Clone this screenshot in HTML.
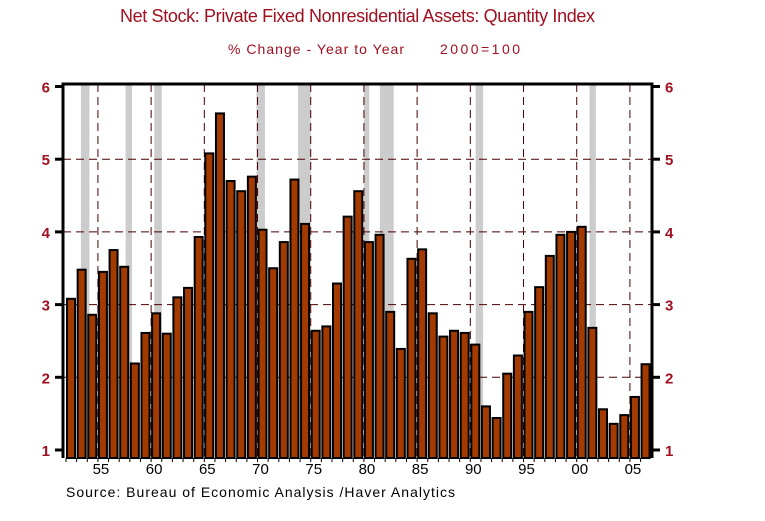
<!DOCTYPE html>
<html><head><meta charset="utf-8"><style>
body{margin:0;background:#fff;width:765px;height:516px;overflow:hidden;font-family:"Liberation Sans",Arial,sans-serif}
</style></head><body>
<svg id="chart" width="765" height="516" xmlns="http://www.w3.org/2000/svg">
<text x="120" y="22" textLength="475" font-size="18" fill="#a01020">Net Stock: Private Fixed Nonresidential Assets: Quantity Index</text>
<text x="228" y="54" textLength="176" font-size="14" fill="#a01020">% Change - Year to Year</text>
<text x="440" y="54" textLength="80" font-size="14" fill="#a01020">2000=100</text>
<g id="shade"></g><g id="grid"></g><g id="bars"></g><g id="axes"></g>
<text x="66" y="497" textLength="389" font-size="14" fill="#000">Source:  Bureau of Economic Analysis /Haver Analytics</text>
</svg>
<script>
const years=[1952,1953,1954,1955,1956,1957,1958,1959,1960,1961,1962,1963,1964,1965,1966,1967,1968,1969,1970,1971,1972,1973,1974,1975,1976,1977,1978,1979,1980,1981,1982,1983,1984,1985,1986,1987,1988,1989,1990,1991,1992,1993,1994,1995,1996,1997,1998,1999,2000,2001,2002,2003,2004,2005,2006];
const values=[3.08,3.48,2.86,3.45,3.75,3.52,2.19,2.61,2.88,2.60,3.10,3.23,3.93,5.08,5.63,4.70,4.56,4.76,4.03,3.50,3.86,4.72,4.11,2.64,2.70,3.29,4.21,4.56,3.86,3.96,2.90,2.39,3.63,3.76,2.88,2.56,2.64,2.61,2.45,1.60,1.44,2.05,2.30,2.90,3.24,3.67,3.96,4.00,4.07,2.68,1.56,1.36,1.48,1.73,2.18];
const recessions=[[1953.4,1954.2],[1957.6,1958.2],[1960.3,1961.0],[1969.9,1970.7],[1973.8,1975.0],[1980.0,1980.5],[1981.5,1982.8],[1990.5,1991.2],[2001.2,2001.8]];
const yTicks=[1,2,3,4,5,6];
const xTickYears=[1955,1960,1965,1970,1975,1980,1985,1990,1995,2000,2005];
const xTickLabels=["55","60","65","70","75","80","85","90","95","00","05"];
const L=63,R=652,T=84,B=458;
const x=yr=>66+(yr-1952)*10.64;
const y=v=>450-(v-1)*72.7;
const NS="http://www.w3.org/2000/svg";
function mk(tag,attrs,parent){const e=document.createElementNS(NS,tag);for(const k in attrs)e.setAttribute(k,attrs[k]);document.getElementById(parent).appendChild(e);return e;}
recessions.forEach(r=>{const e=mk('rect',{x:x(r[0]),y:T,width:x(r[1])-x(r[0]),height:B-T,fill:'#cccccc'},'shade');

});
yTicks.forEach(t=>{if(t>1&&t<6){const e=mk('line',{x1:L,x2:R,y1:y(t),y2:y(t),stroke:'#4a0000','stroke-width':1,'stroke-dasharray':'8,5'},'grid');

}
const a=mk('text',{x:L-13,y:y(t)+6,'text-anchor':'end','font-size':15,'font-weight':'bold',fill:'#a01020'},'axes');a.textContent=t;


const b=mk('text',{x:R+13,y:y(t)+6,'font-size':15,'font-weight':'bold',fill:'#a01020'},'axes');b.textContent=t;


mk('line',{x1:L-8,x2:L,y1:y(t),y2:y(t),stroke:'#000','stroke-width':3},'axes');
mk('line',{x1:R,x2:R+8,y1:y(t),y2:y(t),stroke:'#000','stroke-width':3},'axes');});
xTickYears.forEach((yr,i)=>{const e=mk('line',{x1:x(yr),x2:x(yr),y1:T,y2:B,stroke:'#4a0000','stroke-width':1,'stroke-dasharray':'8,5'},'grid');


const t=mk('text',{x:x(yr)+3,y:474,'text-anchor':'middle','font-size':15,fill:'#000'},'axes');t.textContent=xTickLabels[i];

});
years.forEach((yr,i)=>{const e=mk('rect',{x:x(yr)+1,y:y(values[i]),width:8,height:B-y(values[i]),fill:'#a33a00',stroke:'#000','stroke-width':2},'bars');


mk('line',{x1:x(yr),x2:x(yr),y1:B,y2:B+4,stroke:'#000','stroke-width':1},'axes');});
const f=mk('path',{d:`M${L},${B} V${T} H${R} V${B}`,fill:'none',stroke:'#000','stroke-width':3},'axes');


</script>
</body></html>
